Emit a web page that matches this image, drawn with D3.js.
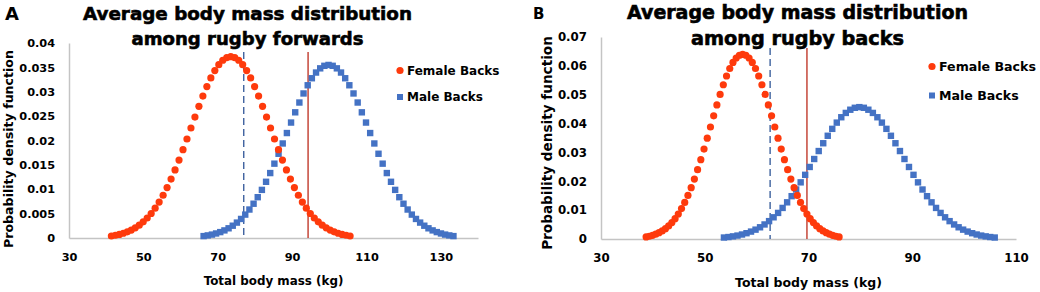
<!DOCTYPE html>
<html>
<head>
<meta charset="utf-8">
<script src="https://cdn.jsdelivr.net/npm/d3@7"></script>
<style>
  html, body { margin: 0; padding: 0; background: #fff; }
  text { font-family: "DejaVu Sans", "Liberation Sans", Arial, sans-serif; font-weight: bold; fill: #000; }
</style>
</head>
<body>
<div id="chart"></div>
<script>
// panel A: forwards
const forwardsFemaleMass = [41.40, 42.47, 43.54, 44.61, 45.68, 46.75, 47.82, 48.89, 49.96, 51.03, 52.10, 53.17, 54.24, 55.31, 56.38, 57.45, 58.52, 59.59, 60.66, 61.73, 62.80, 63.87, 64.94, 66.01, 67.08, 68.15, 69.22, 70.29, 71.36, 72.43, 73.50, 74.57, 75.64, 76.71, 77.78, 78.85, 79.92, 80.99, 82.06, 83.13, 84.20, 85.27, 86.34, 87.41, 88.48, 89.55, 90.62, 91.69, 92.76, 93.83, 94.90, 95.97, 97.04, 98.11, 99.18, 100.25, 101.32, 102.39, 103.46, 104.53, 105.60];
const forwardsFemaleDensity = [0.00041, 0.00056, 0.00074, 0.00097, 0.00127, 0.00163, 0.00209, 0.00264, 0.00331, 0.00410, 0.00503, 0.00612, 0.00736, 0.00877, 0.01034, 0.01208, 0.01396, 0.01598, 0.01811, 0.02031, 0.02256, 0.02481, 0.02701, 0.02912, 0.03107, 0.03283, 0.03434, 0.03556, 0.03646, 0.03701, 0.03720, 0.03701, 0.03646, 0.03556, 0.03434, 0.03283, 0.03107, 0.02912, 0.02701, 0.02481, 0.02256, 0.02031, 0.01811, 0.01598, 0.01396, 0.01208, 0.01034, 0.00877, 0.00736, 0.00612, 0.00503, 0.00410, 0.00331, 0.00264, 0.00209, 0.00163, 0.00127, 0.00097, 0.00074, 0.00056, 0.00041];
const forwardsMaleMass = [66.20, 67.32, 68.44, 69.56, 70.68, 71.80, 72.92, 74.04, 75.16, 76.28, 77.40, 78.52, 79.64, 80.76, 81.88, 83.00, 84.12, 85.24, 86.36, 87.48, 88.60, 89.72, 90.84, 91.96, 93.08, 94.20, 95.32, 96.44, 97.56, 98.68, 99.80, 100.92, 102.04, 103.16, 104.28, 105.40, 106.52, 107.64, 108.76, 109.88, 111.00, 112.12, 113.24, 114.36, 115.48, 116.60, 117.72, 118.84, 119.96, 121.08, 122.20, 123.32, 124.44, 125.56, 126.68, 127.80, 128.92, 130.04, 131.16, 132.28, 133.40];
const forwardsMaleDensity = [0.00039, 0.00053, 0.00070, 0.00093, 0.00121, 0.00156, 0.00199, 0.00252, 0.00316, 0.00391, 0.00480, 0.00584, 0.00703, 0.00837, 0.00987, 0.01153, 0.01332, 0.01525, 0.01728, 0.01939, 0.02153, 0.02368, 0.02578, 0.02779, 0.02965, 0.03133, 0.03277, 0.03394, 0.03480, 0.03532, 0.03550, 0.03532, 0.03480, 0.03394, 0.03277, 0.03133, 0.02965, 0.02779, 0.02578, 0.02368, 0.02153, 0.01939, 0.01728, 0.01525, 0.01332, 0.01153, 0.00987, 0.00837, 0.00703, 0.00584, 0.00480, 0.00391, 0.00316, 0.00252, 0.00199, 0.00156, 0.00121, 0.00093, 0.00070, 0.00053, 0.00039];
const forwardsMarkers = [77.0, 94.3]; // dashed blue, solid red
const forwardsXTicks = [30, 50, 70, 90, 110, 130];
const forwardsYTicks = [0, 0.005, 0.01, 0.015, 0.02, 0.025, 0.03, 0.035, 0.04];
const forwardsYLabels = ["0", "0.005", "0.01", "0.015", "0.02", "0.025", "0.03", "0.035", "0.04"];

// panel B: backs
const backsFemaleMass = [38.70, 39.32, 39.94, 40.56, 41.18, 41.80, 42.42, 43.04, 43.66, 44.28, 44.90, 45.52, 46.14, 46.76, 47.38, 48.00, 48.62, 49.24, 49.86, 50.48, 51.10, 51.72, 52.34, 52.96, 53.58, 54.20, 54.82, 55.44, 56.06, 56.68, 57.30, 57.92, 58.54, 59.16, 59.78, 60.40, 61.02, 61.64, 62.26, 62.88, 63.50, 64.12, 64.74, 65.36, 65.98, 66.60, 67.22, 67.84, 68.46, 69.08, 69.70, 70.32, 70.94, 71.56, 72.18, 72.80, 73.42, 74.04, 74.66, 75.28, 75.90];
const backsFemaleDensity = [0.00071, 0.00095, 0.00127, 0.00167, 0.00218, 0.00281, 0.00359, 0.00454, 0.00569, 0.00706, 0.00866, 0.01053, 0.01267, 0.01509, 0.01779, 0.02078, 0.02402, 0.02749, 0.03115, 0.03495, 0.03882, 0.04269, 0.04647, 0.05009, 0.05346, 0.05648, 0.05908, 0.06118, 0.06273, 0.06368, 0.06400, 0.06368, 0.06273, 0.06118, 0.05908, 0.05648, 0.05346, 0.05009, 0.04647, 0.04269, 0.03882, 0.03495, 0.03115, 0.02749, 0.02402, 0.02078, 0.01779, 0.01509, 0.01267, 0.01053, 0.00866, 0.00706, 0.00569, 0.00454, 0.00359, 0.00281, 0.00218, 0.00167, 0.00127, 0.00095, 0.00071];
const backsMaleMass = [53.70, 54.57, 55.44, 56.31, 57.18, 58.05, 58.92, 59.79, 60.66, 61.53, 62.40, 63.27, 64.14, 65.01, 65.88, 66.75, 67.62, 68.49, 69.36, 70.23, 71.10, 71.97, 72.84, 73.71, 74.58, 75.45, 76.32, 77.19, 78.06, 78.93, 79.80, 80.67, 81.54, 82.41, 83.28, 84.15, 85.02, 85.89, 86.76, 87.63, 88.50, 89.37, 90.24, 91.11, 91.98, 92.85, 93.72, 94.59, 95.46, 96.33, 97.20, 98.07, 98.94, 99.81, 100.68, 101.55, 102.42, 103.29, 104.16, 105.03, 105.90];
const backsMaleDensity = [0.00051, 0.00068, 0.00091, 0.00119, 0.00156, 0.00201, 0.00257, 0.00324, 0.00406, 0.00504, 0.00619, 0.00752, 0.00904, 0.01077, 0.01271, 0.01484, 0.01715, 0.01963, 0.02224, 0.02496, 0.02772, 0.03048, 0.03318, 0.03577, 0.03817, 0.04033, 0.04219, 0.04369, 0.04480, 0.04547, 0.04570, 0.04547, 0.04480, 0.04369, 0.04219, 0.04033, 0.03817, 0.03577, 0.03318, 0.03048, 0.02772, 0.02496, 0.02224, 0.01963, 0.01715, 0.01484, 0.01271, 0.01077, 0.00904, 0.00752, 0.00619, 0.00504, 0.00406, 0.00324, 0.00257, 0.00201, 0.00156, 0.00119, 0.00091, 0.00068, 0.00051];
const backsMarkers = [62.6, 69.7];
const backsXTicks = [30, 50, 70, 90, 110];
const backsYTicks = [0, 0.01, 0.02, 0.03, 0.04, 0.05, 0.06, 0.07];
const backsYLabels = ["0", "0.01", "0.02", "0.03", "0.04", "0.05", "0.06", "0.07"];

const seriesNames = ["Female Backs", "Male Backs"];

const RED = "#fe3a0c", BLUE = "#4472c4";

const svg = d3.select("#chart").append("svg")
    .attr("width", 1040)
    .attr("height", 292);

svg.append("rect").attr("width", 1040).attr("height", 292).attr("fill", "#fff");

function drawPanel(p) {
    const g = svg.append("g");

    const x = d3.scaleLinear().domain(p.xDomain).range([p.left, p.right]);
    const y = d3.scaleLinear().domain(p.yDomain).range([p.bottom, p.top]);

    // x axis
    const xa = g.append("g")
        .attr("transform", `translate(0,${p.bottom})`)
        .call(d3.axisBottom(x).tickValues(p.xTicks).tickSize(0).tickSizeOuter(0).tickPadding(15).tickFormat(d3.format("d")));
    xa.select(".domain").attr("stroke", "#c4c4c4").attr("stroke-width", 1.5);
    xa.selectAll("text").style("font-size", p.tickFont + "px").attr("fill", "#000");

    // y axis
    const ya = g.append("g")
        .attr("transform", `translate(${p.left},0)`)
        .call(d3.axisLeft(y).tickValues(p.yTicks).tickSize(0).tickSizeOuter(0).tickPadding(14)
            .tickFormat((d, i) => p.yLabels[i]));
    ya.select(".domain").attr("stroke", "#c4c4c4").attr("stroke-width", 1.5);
    ya.selectAll("text").style("font-size", p.tickFont + "px").attr("fill", "#000");

    // reference lines
    g.append("line")
        .attr("x1", x(p.markers[0])).attr("x2", x(p.markers[0]))
        .attr("y1", p.lineTop).attr("y2", p.bottom)
        .attr("stroke", "#2f5597").attr("stroke-width", 1.3)
        .attr("stroke-dasharray", "7,4");
    g.append("line")
        .attr("x1", x(p.markers[1])).attr("x2", x(p.markers[1]))
        .attr("y1", p.lineTop).attr("y2", p.bottom)
        .attr("stroke", "#c0392b").attr("stroke-width", 1.4);

    // male: squares
    const male = p.maleMass.map((m, i) => ({ m, d: p.maleDensity[i] }));
    g.selectAll(".sq").data(male).enter().append("rect")
        .attr("class", "sq")
        .attr("x", d => x(d.m) - 3.2)
        .attr("y", d => y(d.d) - 3.2)
        .attr("width", 6.4).attr("height", 6.4)
        .attr("fill", BLUE);

    // female: circles
    const female = p.femaleMass.map((m, i) => ({ m, d: p.femaleDensity[i] }));
    g.selectAll(".dot").data(female).enter().append("circle")
        .attr("class", "dot")
        .attr("cx", d => x(d.m))
        .attr("cy", d => y(d.d))
        .attr("r", 3.6)
        .attr("fill", RED);

    // titles
    p.title.forEach((t, i) => {
        g.append("text")
            .attr("x", p.titleX).attr("y", p.titleY[i])
            .attr("text-anchor", "middle")
            .attr("textLength", p.titleW[i])
            .attr("lengthAdjust", "spacingAndGlyphs")
            .style("font-size", p.titleFont + "px")
            .attr("stroke", "#000").attr("stroke-width", 0.6)
            .text(t);
    });

    g.append("text")
        .attr("x", p.tag[1]).attr("y", p.tag[2])
        .style("font-size", p.tag[3] + "px")
        .text(p.tag[0]);

    g.append("text")
        .attr("x", (p.left + p.right) / 2).attr("y", p.xTitleY)
        .attr("text-anchor", "middle")
        .style("font-size", p.xTitleFont + "px")
        .text("Total body mass (kg)");

    g.append("text")
        .attr("transform", `translate(${p.yTitleX},${p.yTitleY}) rotate(-90)`)
        .attr("text-anchor", "middle")
        .attr("dominant-baseline", "central")
        .style("font-size", p.yTitleFont + "px")
        .text("Probability density function");

    // legend
    g.append("circle").attr("cx", p.legX).attr("cy", p.legY[0]).attr("r", 3.6).attr("fill", RED);
    g.append("rect").attr("x", p.legX - 3).attr("y", p.legY[1] - 3).attr("width", 6).attr("height", 6).attr("fill", BLUE);
    seriesNames.forEach((s, i) => {
        g.append("text")
            .attr("x", p.legX + 7).attr("y", p.legY[i])
            .attr("dominant-baseline", "central")
            .style("font-size", p.legFont + "px")
            .text(s);
    });
}

drawPanel({
    left: 69, right: 478, top: 43, bottom: 238,
    xDomain: [30, 140], yDomain: [0, 0.04],
    xTicks: forwardsXTicks, yTicks: forwardsYTicks, yLabels: forwardsYLabels,
    femaleMass: forwardsFemaleMass, femaleDensity: forwardsFemaleDensity,
    maleMass: forwardsMaleMass, maleDensity: forwardsMaleDensity,
    markers: forwardsMarkers, lineTop: 52,
    title: ["Average body mass distribution", "among rugby forwards"],
    titleX: 247.5, titleY: [20, 45], titleFont: 18.3, titleW: [329, 232],
    tag: ["A", 5, 20, 18],
    tickFont: 11.3, xTitleFont: 11.9, yTitleFont: 12.6, legFont: 12,
    xTitleY: 284.5, yTitleX: 8.5, yTitleY: 149,
    legX: 400, legY: [70.5, 97]
});

drawPanel({
    left: 601, right: 1016, top: 37, bottom: 239,
    xDomain: [30, 110], yDomain: [0, 0.07],
    xTicks: backsXTicks, yTicks: backsYTicks, yLabels: backsYLabels,
    femaleMass: backsFemaleMass, femaleDensity: backsFemaleDensity,
    maleMass: backsMaleMass, maleDensity: backsMaleDensity,
    markers: backsMarkers, lineTop: 48,
    title: ["Average body mass distribution", "among rugby backs"],
    titleX: 797.5, titleY: [19, 45], titleFont: 18.8, titleW: [341, 213],
    tag: ["B", 533, 19, 15],
    tickFont: 11.8, xTitleFont: 12.5, yTitleFont: 13.6, legFont: 12.6,
    xTitleY: 287.3, yTitleX: 547, yTitleY: 143,
    legX: 932, legY: [66.5, 95.5]
});
</script>
</body>
</html>
